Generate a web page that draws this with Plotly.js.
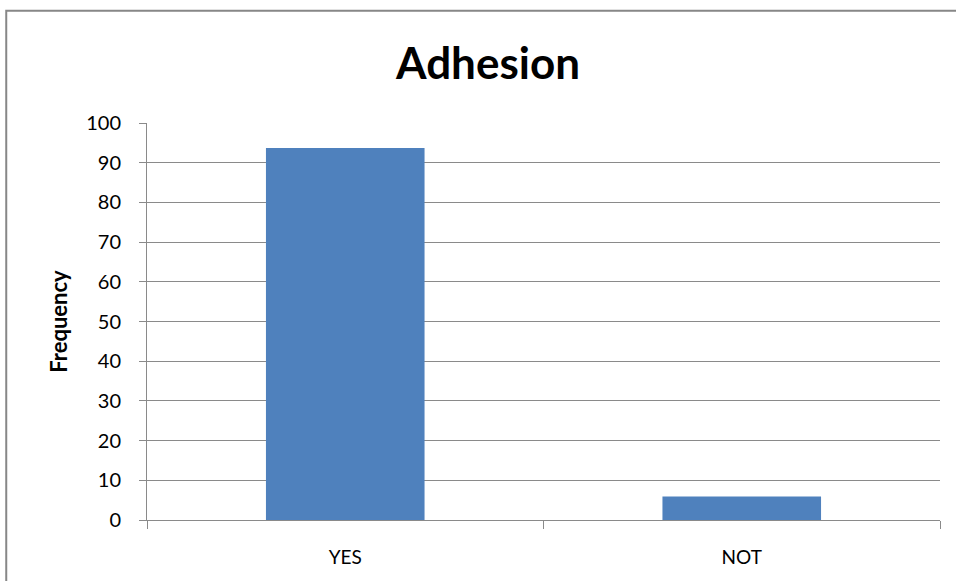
<!DOCTYPE html>
<html>
<head>
<meta charset="utf-8">
<script src="https://cdn.plot.ly/plotly-3.0.1.min.js"></script>
<style>
html,body{margin:0;padding:0;background:#fff;}
#chart{width:956px;height:581px;}
</style>
</head>
<body>
<div id="chart"></div>
<script>
var categories = ["YES", "NOT"];
var frequency = [93.7, 5.9];
var yTickValues = [0, 10, 20, 30, 40, 50, 60, 70, 80, 90, 100];

var FONT = "Lato, 'Open Sans', sans-serif";
var GRID = "#8a8a8a";

var trace = {
  type: "bar",
  x: categories,
  y: frequency,
  marker: {color: "#4F81BD", line: {width: 0}},
  width: 0.4,
  hoverinfo: "x+y"
};

var layout = {
  width: 956,
  height: 581,
  margin: {l: 147, r: 16, t: 123, b: 61},
  paper_bgcolor: "#ffffff",
  plot_bgcolor: "#ffffff",
  showlegend: false,
  title: {
    text: "<b>Adhesion</b>",
    font: {family: FONT, size: 44, color: "#000000"},
    x: 0.5105, xanchor: "center",
    y: 0.89, yanchor: "middle"
  },
  xaxis: {
    type: "category",
    tickson: "boundaries",
    ticks: "outside",
    ticklen: 8,
    tickcolor: GRID,
    tickwidth: 1,
    showline: true,
    linecolor: GRID,
    linewidth: 1,
    showgrid: false,
    zeroline: false,
    tickfont: {family: FONT, size: 19, color: "#000000"},
    ticklabelstandoff: 20,
    fixedrange: true
  },
  yaxis: {
    range: [0, 100],
    tickvals: yTickValues,
    ticktext: yTickValues.map(String),
    ticks: "outside",
    ticklen: 7,
    tickcolor: GRID,
    tickwidth: 1,
    showline: true,
    linecolor: GRID,
    linewidth: 1,
    showgrid: true,
    gridcolor: GRID,
    gridwidth: 1,
    zeroline: false,
    tickfont: {family: FONT, size: 20, color: "#000000"},
    ticklabelstandoff: 14,
    title: {
      text: "<b>Frequency</b>",
      font: {family: FONT, size: 22, color: "#000000"},
      standoff: 12
    },
    fixedrange: true
  },
  shapes: [{
    type: "rect",
    xref: "paper", yref: "paper",
    x0: -0.1775, x1: 1.5,
    y0: -0.5, y1: 1.2825,
    line: {color: "#878787", width: 2},
    fillcolor: "rgba(0,0,0,0)",
    layer: "below"
  }],
  bargap: 0.6
};

Plotly.newPlot("chart", [trace], layout, {displayModeBar: false, staticPlot: true});
</script>
</body>
</html>
